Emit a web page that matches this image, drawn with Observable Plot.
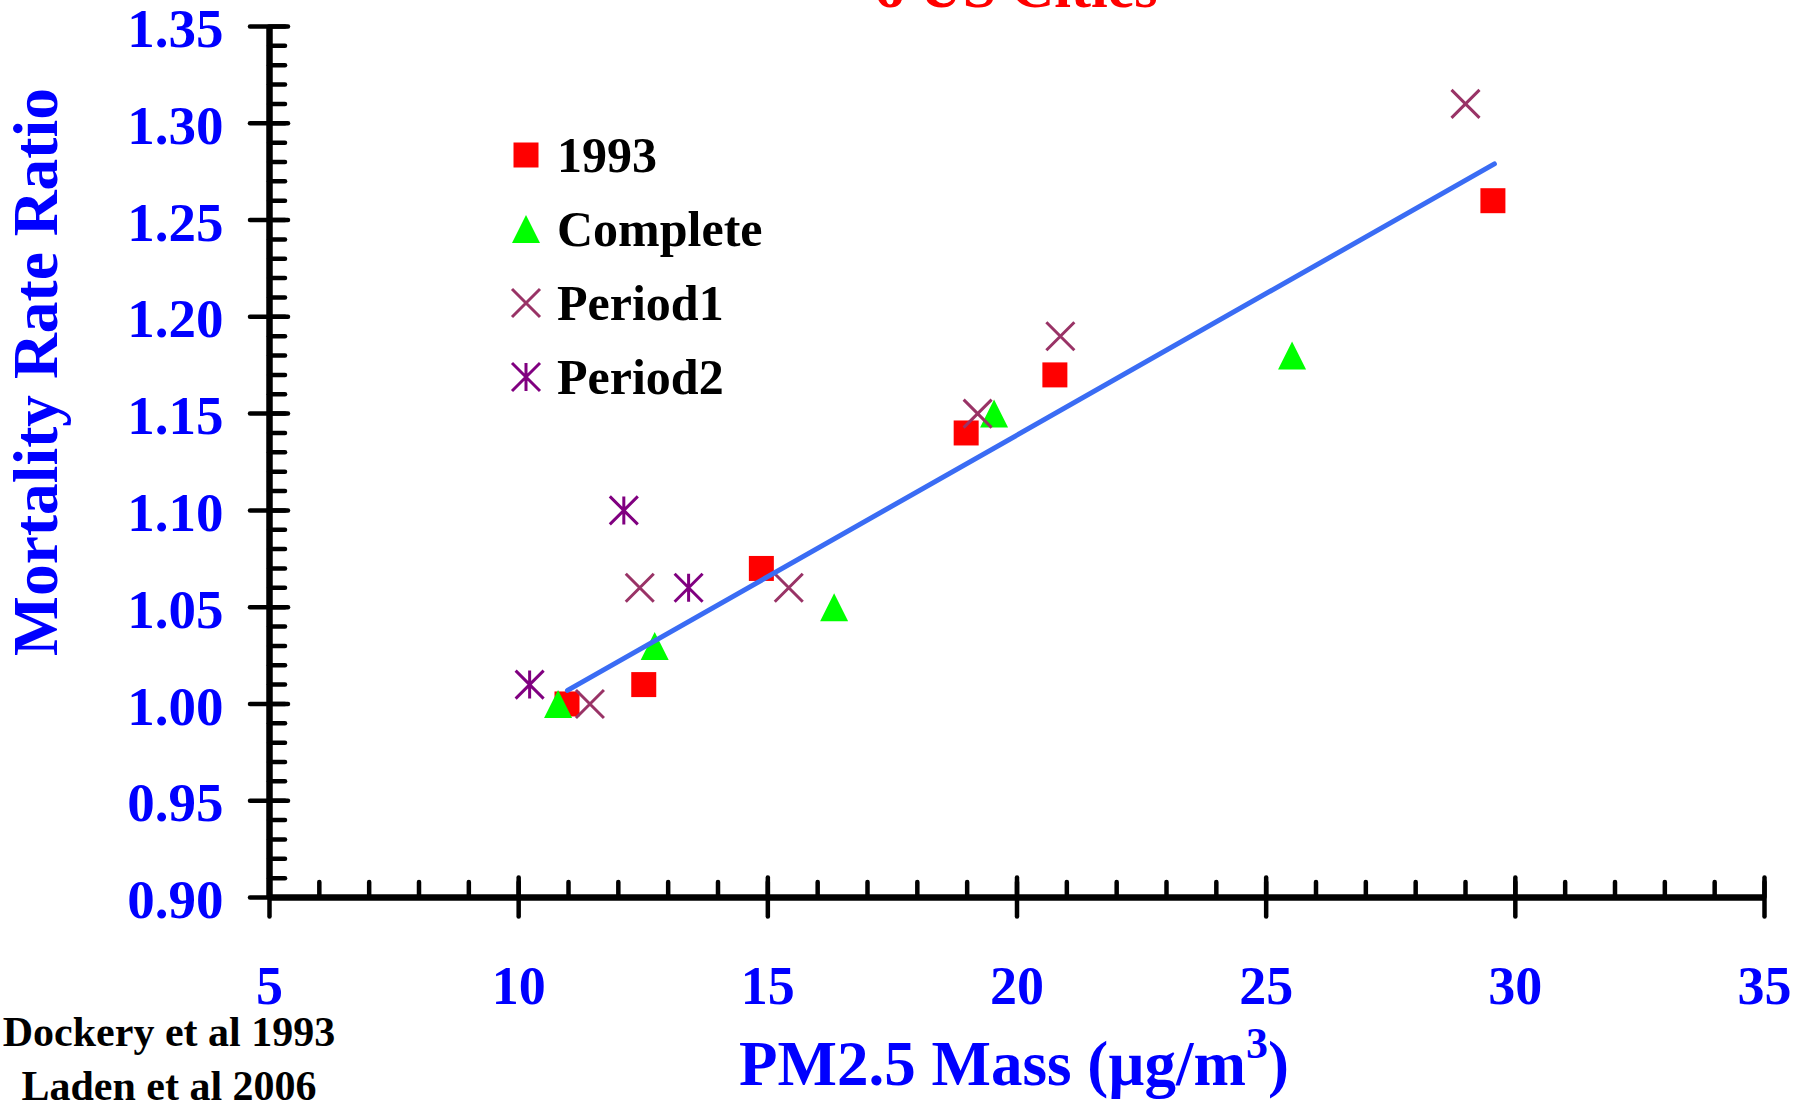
<!DOCTYPE html>
<html>
<head>
<meta charset="utf-8">
<script src="https://cdn.jsdelivr.net/npm/d3@7"></script>
<script src="https://cdn.jsdelivr.net/npm/@observablehq/plot@0.6"></script>
<style>
  html, body { margin: 0; padding: 0; background: #fff; }
  #wrap { position: relative; width: 1810px; height: 1100px; overflow: hidden; }
  #wrap > svg { position: absolute; left: 0; top: 0; }
  #legend { position: absolute; left: 511px; top: 118px; font-family: "Liberation Serif", serif; font-weight: bold; font-size: 50px; color: #000; }
  #legend .row { display: flex; align-items: center; height: 74px; }
  #legend .row svg { width: 30px; height: 30px; margin-right: 16px; flex: none; overflow: visible; }
  #legend .row span { white-space: nowrap; }
  #notes { position: absolute; left: 0; top: 0; pointer-events: none; }
</style>
</head>
<body>
<div id="wrap"></div>
<script>
// ---------------- data ----------------
const xTicks = [5, 10, 15, 20, 25, 30, 35];
const yTicks = [0.90, 0.95, 1.00, 1.05, 1.10, 1.15, 1.20, 1.25, 1.30, 1.35];
const xMinorTicks = d3.range(5, 36);
const yMinorTicks = d3.range(90, 136).map(d => d / 100);

const seriesNames = ["1993", "Complete", "Period1", "Period2"];

const pm1993 = [10.97, 12.51, 14.87, 18.98, 20.76, 29.55];
const mrr1993 = [1.00, 1.01, 1.07, 1.14, 1.17, 1.26];

const pmComplete = [10.79, 12.73, 16.33, 19.54, 25.52];
const mrrComplete = [1.00, 1.03, 1.05, 1.15, 1.18];

const pmPeriod1 = [11.43, 12.43, 15.42, 19.21, 20.87, 29.00];
const mrrPeriod1 = [1.00, 1.06, 1.06, 1.15, 1.19, 1.31];

const pmPeriod2 = [10.22, 12.11, 13.41];
const mrrPeriod2 = [1.01, 1.10, 1.06];

const pmFit = [10.98, 29.58];
const mrrFit = [1.007, 1.279];

// ---------------- helpers ----------------
const toRows = (xs, ys) => xs.map((x, i) => ({pm: x, mrr: ys[i]}));
const half = size => Math.sqrt(size / Math.PI);
const symSquare = {draw(c, s) { const r = half(s); c.rect(-r, -r, 2 * r, 2 * r); }};
const symTri = {draw(c, s) { const r = half(s); c.moveTo(0, -r); c.lineTo(r, r); c.lineTo(-r, r); c.closePath(); }};
const symTimes = {draw(c, s) { const r = half(s); c.moveTo(-r, -r); c.lineTo(r, r); c.moveTo(-r, r); c.lineTo(r, -r); }};
const symAst = {draw(c, s) { const r = half(s); c.moveTo(-r, -r); c.lineTo(r, r); c.moveTo(-r, r); c.lineTo(r, -r); c.moveTo(0, -r); c.lineTo(0, r); }};

const BLUE = "#0000FF";
const FONT = "Liberation Serif";
const styles = [
  {sym: symSquare, r: 12.5, fill: "#FF0000", stroke: "none", sw: 0},
  {sym: symTri, r: 14, fill: "#00FF00", stroke: "none", sw: 0},
  {sym: symTimes, r: 14, fill: "none", stroke: "#993366", sw: 3},
  {sym: symAst, r: 14, fill: "none", stroke: "#800080", sw: 3}
];
const seriesData = [
  toRows(pm1993, mrr1993),
  toRows(pmComplete, mrrComplete),
  toRows(pmPeriod1, mrrPeriod1),
  toRows(pmPeriod2, mrrPeriod2)
];

const tickStyle = {fill: "none", stroke: "#000", strokeWidth: 4.5, strokeLinecap: "round", label: null};

const plot = Plot.plot({
  width: 1810,
  height: 1100,
  marginLeft: 269,
  marginRight: 46,
  marginTop: 26,
  marginBottom: 203,
  x: {domain: [5, 35]},
  y: {domain: [0.90, 1.35]},
  style: {background: "transparent", fontFamily: FONT},
  marks: [
    Plot.axisY(yMinorTicks, {anchor: "left", tickSize: 16, dx: 16, ...tickStyle}),
    Plot.axisY(yTicks, {anchor: "left", tickSize: 38, dx: 19, ...tickStyle}),
    Plot.axisY(yTicks, {anchor: "left", tickSize: 0, tickPadding: 46, dy: 3, tickFormat: d3.format(".2f"),
      fill: BLUE, fontSize: 55, fontWeight: "bold", fontFamily: FONT, label: null}),
    Plot.axisX(xMinorTicks, {anchor: "bottom", tickSize: 15, dy: -15, ...tickStyle}),
    Plot.axisX(xTicks, {anchor: "bottom", tickSize: 39, dy: -19.5, ...tickStyle}),
    Plot.axisX(xTicks, {anchor: "bottom", tickSize: 0, tickPadding: 68, tickFormat: d3.format("d"),
      fill: BLUE, fontSize: 54, fontWeight: "bold", fontFamily: FONT, label: null}),
    Plot.ruleX([xTicks[0]], {stroke: "#000", strokeWidth: 6.5}),
    Plot.ruleY([yTicks[0]], {stroke: "#000", strokeWidth: 6.5}),
    ...seriesData.map((rows, i) => Plot.dot(rows, {
      x: "pm", y: "mrr", symbol: styles[i].sym, r: styles[i].r,
      fill: styles[i].fill, stroke: styles[i].stroke, strokeWidth: styles[i].sw
    })),
    Plot.line(toRows(pmFit, mrrFit), {x: "pm", y: "mrr", stroke: "#3A6CF4", strokeWidth: 5, strokeLinecap: "round"})
  ]
});

const wrap = document.getElementById("wrap");
wrap.appendChild(plot);

// ---------------- text annotations ----------------
const ns = "http://www.w3.org/2000/svg";
const notes = document.createElementNS(ns, "svg");
notes.setAttribute("id", "notes");
notes.setAttribute("width", 1810);
notes.setAttribute("height", 1100);
notes.innerHTML = `
  <text x="1016" y="7" text-anchor="middle" font-family="${FONT}" font-weight="bold" font-size="60" fill="#FF0000">6 US Cities</text>
  <text transform="translate(57,372) rotate(-90)" text-anchor="middle" font-family="${FONT}" font-weight="bold" font-size="63.5" fill="${BLUE}">Mortality Rate Ratio</text>
  <text x="1014" y="1085" text-anchor="middle" font-family="${FONT}" font-weight="bold" font-size="63" fill="${BLUE}">PM2.5 Mass (µg/m<tspan font-size="44" dy="-27">3</tspan><tspan dy="27">)</tspan></text>
  <text x="169" y="1046" text-anchor="middle" font-family="${FONT}" font-weight="bold" font-size="42" fill="#000">Dockery et al 1993</text>
  <text x="169" y="1100" text-anchor="middle" font-family="${FONT}" font-weight="bold" font-size="42" fill="#000">Laden et al 2006</text>
`;
wrap.appendChild(notes);

// ---------------- legend ----------------
const legend = document.createElement("div");
legend.id = "legend";
seriesNames.forEach((name, i) => {
  const st = styles[i];
  const p = d3.path();
  st.sym.draw(p, Math.PI * st.r * st.r);
  const row = document.createElement("div");
  row.className = "row";
  row.innerHTML = `<svg viewBox="-15 -15 30 30"><path d="${p.toString()}" fill="${st.fill}" stroke="${st.stroke}" stroke-width="${st.sw}"/></svg><span>${name}</span>`;
  legend.appendChild(row);
});
wrap.appendChild(legend);
</script>
</body>
</html>
